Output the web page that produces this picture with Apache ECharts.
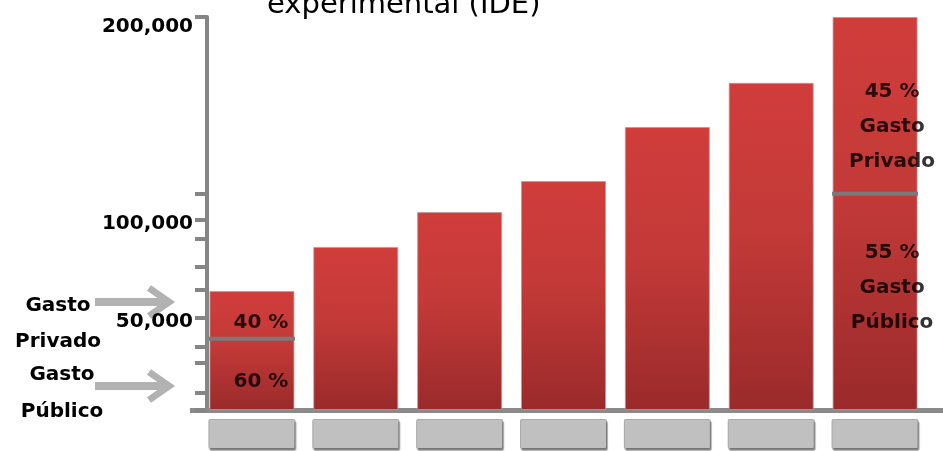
<!DOCTYPE html>
<html>
<head>
<meta charset="utf-8">
<script src="https://cdn.jsdelivr.net/npm/echarts@6/dist/echarts.min.js"></script>
<style>html,body{margin:0;padding:0;background:#fff;}#c{width:943px;height:451px;}</style>
</head>
<body>
<div id="c"></div>
<script>
// ---- data ----
const titleText = 'experimental (IDE)';
const categories = ['C1', 'C2', 'C3', 'C4', 'C5', 'C6', 'C7'];   // blank grey placeholders in the source
const totals = [60500, 83000, 100800, 116500, 144000, 166500, 200000];
const publicShare = [60, null, null, null, null, null, 55];
const privateShare = [40, null, null, null, null, null, 45];
const showSegmentNames = [false, false, false, false, false, false, true];
const privateName = 'Gasto\nPrivado';
const publicName = 'Gasto\nPúblico';
const yLabelValues = [50000, 100000, 200000];
const yTickValues = [0, 9000, 24000, 32000, 47000, 61000, 73000, 87000, 97000, 110000, 200000];
const sideLabels = ['Gasto\nPrivado', 'Gasto\nPúblico'];

// ---- styles ----
const FONT = 'DejaVu Sans';
const labelOffsets = { 0: { priv: [9, 8], pub: [9, 7] }, 6: { priv: [17, 21], pub: [17, -14] } };

const dividers = [];
const segLabels = [];
totals.forEach((t, i) => {
  if (publicShare[i] == null) return;
  dividers.push([i, t * publicShare[i] / 100]);
  const off = labelOffsets[i] || { priv: [0, 0], pub: [0, 0] };
  segLabels.push({
    value: [i, t * (publicShare[i] + privateShare[i] / 2) / 100],
    label: { offset: off.priv, formatter: privateShare[i] + ' %' + (showSegmentNames[i] ? '\n' + privateName : '') }
  });
  segLabels.push({
    value: [i, t * publicShare[i] / 200],
    label: { offset: off.pub, formatter: publicShare[i] + ' %' + (showSegmentNames[i] ? '\n' + publicName : '') }
  });
});

const chart = echarts.init(document.getElementById('c'), null, { renderer: 'canvas' });

const arrowColor = '#b2b2b2';
function arrow(y) {
  return {
    type: 'group',
    children: [
      { type: 'rect', shape: { x: 95, y: y - 4, width: 70, height: 8 }, style: { fill: arrowColor } },
      { type: 'polyline', shape: { points: [[149, y - 14], [169, y], [149, y + 14]] },
        style: { stroke: arrowColor, lineWidth: 7, fill: null, lineJoin: 'miter' } }
    ]
  };
}

chart.setOption({
  animation: false,
  backgroundColor: '#ffffff',
  title: {
    text: titleText,
    left: 262,
    top: -14,
    textStyle: { fontFamily: FONT, fontSize: 29, fontWeight: 'normal', color: '#000' }
  },
  grid: { left: 200, right: 16, top: 17, bottom: 41 },
  xAxis: {
    type: 'category',
    data: categories,
    axisLine: { lineStyle: { color: '#8a8a8a', width: 5 } },
    axisTick: { show: false },
    axisLabel: {
      margin: 10,
      formatter: () => '{box|}',
      rich: {
        box: {
          width: 85, height: 28, backgroundColor: '#c0c0c0',
          borderColor: '#a9a9a9', borderWidth: 1, borderRadius: 1,
          shadowColor: 'rgba(0,0,0,0.3)', shadowOffsetX: 1, shadowOffsetY: 2, shadowBlur: 1
        }
      }
    }
  },
  yAxis: {
    type: 'value',
    min: 0,
    max: 200000,
    offset: -7,
    splitLine: { show: false },
    axisLine: { show: true, lineStyle: { color: '#858585', width: 4 } },
    axisTick: {
      show: true, customValues: yTickValues, length: 12,
      lineStyle: { color: '#858585', width: 4 }
    },
    axisLabel: {
      customValues: yLabelValues,
      margin: 14,
      verticalAlign: 'top',
      fontFamily: FONT, fontSize: 20, fontWeight: 'bold', color: '#000',
      formatter: v => v.toLocaleString('en-US')
    }
  },
  series: [
    {
      type: 'bar',
      data: totals,
      barWidth: 85,
      itemStyle: {
        color: new echarts.graphic.LinearGradient(0, 0, 0, 1, [
          { offset: 0, color: '#d03d3b' },
          { offset: 0.45, color: '#c33a38' },
          { offset: 1, color: '#9a2a2a' }
        ]),
        borderColor: 'rgba(190,150,150,0.8)',
        borderWidth: 1
      }
    },
    {
      type: 'scatter',
      data: dividers,
      symbol: 'rect',
      symbolSize: [86, 4],
      itemStyle: { color: '#7a7a7a', opacity: 1 },
      z: 5,
      silent: true
    },
    {
      type: 'scatter',
      data: segLabels,
      symbolSize: 0,
      z: 6,
      silent: true,
      label: {
        show: true, position: 'inside',
        fontFamily: FONT, fontSize: 20, fontWeight: 'bold', color: '#000',
        textBorderWidth: 0,
        lineHeight: 35, align: 'center'
      }
    }
  ],
  graphic: [
    { type: 'rect', shape: { x: 925, y: 408, width: 18, height: 5 }, style: { fill: '#8a8a8a' } },
    { type: 'rect', shape: { x: 190, y: 408, width: 12, height: 5 }, style: { fill: '#8a8a8a' } },
    { type: 'text', x: 58, y: 324, style: { text: sideLabels[0], font: 'bold 20px "DejaVu Sans"', fill: '#000', textAlign: 'center', textVerticalAlign: 'middle', lineHeight: 36 } },
    { type: 'text', x: 62, y: 393, style: { text: sideLabels[1], font: 'bold 20px "DejaVu Sans"', fill: '#000', textAlign: 'center', textVerticalAlign: 'middle', lineHeight: 37 } },
    arrow(302),
    arrow(386)
  ]
});
</script>
</body>
</html>
